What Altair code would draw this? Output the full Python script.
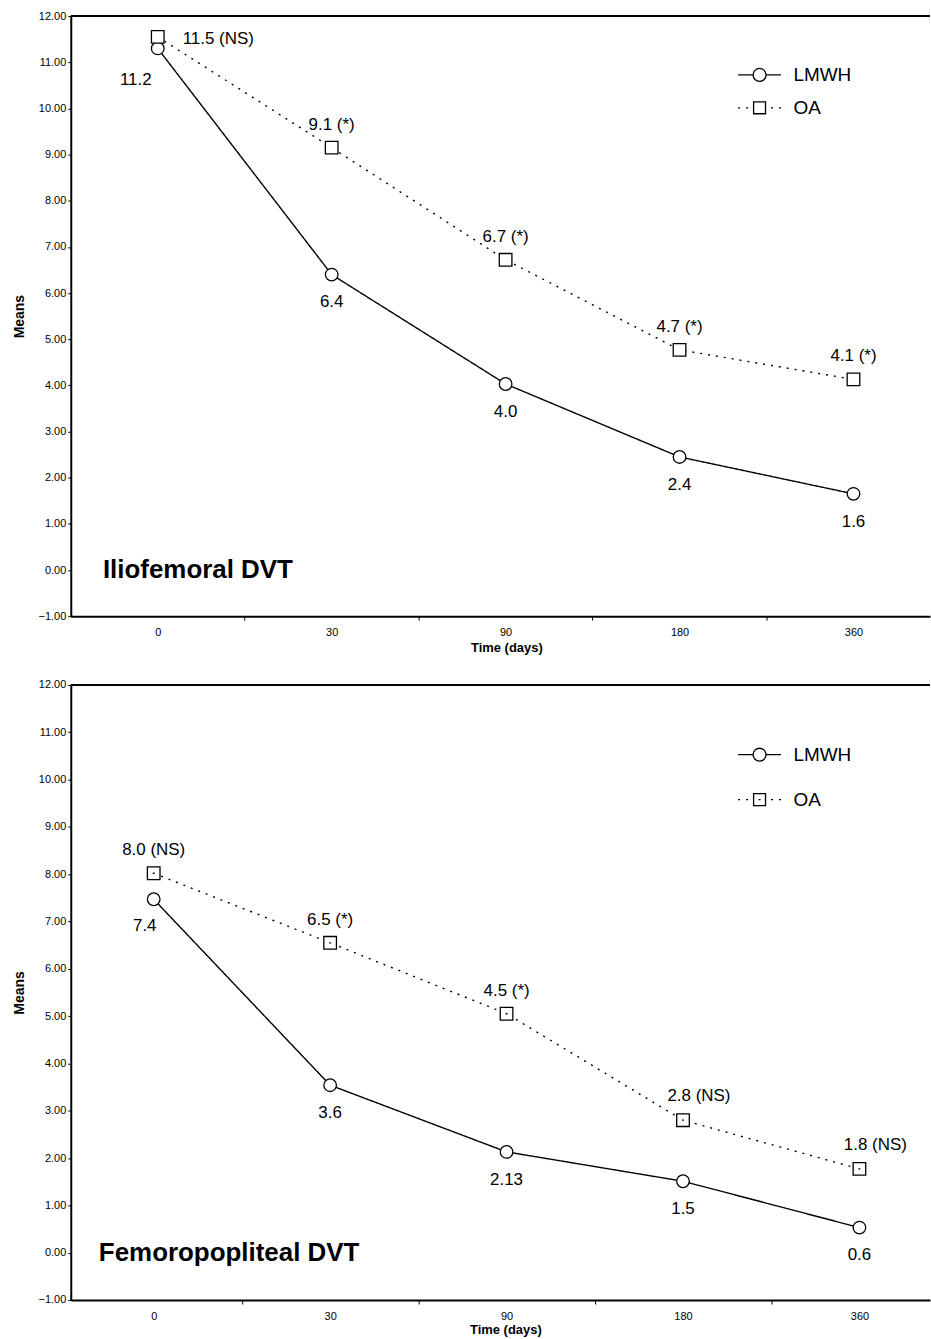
import json
import altair as alt
import pandas as pd

# ---------------- data ----------------
days = ["0", "30", "90", "180", "360"]
series = ["LMWH", "OA"]
y_ticks = list(range(-1, 13))
panel_names = ["Iliofemoral DVT", "Femoropopliteal DVT"]

ilio_lmwh = [11.30, 6.40, 4.03, 2.45, 1.65]
ilio_oa = [11.55, 9.15, 6.72, 4.77, 4.13]
ilio_lmwh_text = ["11.2", "6.4", "4.0", "2.4", "1.6"]
ilio_oa_text = ["11.5 (NS)", "9.1 (*)", "6.7 (*)", "4.7 (*)", "4.1 (*)"]

femo_lmwh = [7.47, 3.54, 2.13, 1.51, 0.53]
femo_oa = [8.02, 6.55, 5.05, 2.80, 1.77]
femo_lmwh_text = ["7.4", "3.6", "2.13", "1.5", "0.6"]
femo_oa_text = ["8.0 (NS)", "6.5 (*)", "4.5 (*)", "2.8 (NS)", "1.8 (NS)"]

FONT = "Liberation Sans"


def make_df(lmwh, oa, lmwh_text, oa_text):
    rows = []
    for i, d in enumerate(days):
        rows.append({"i": i, "day": d, "series": "LMWH", "value": lmwh[i], "label": lmwh_text[i]})
        rows.append({"i": i, "day": d, "series": "OA", "value": oa[i], "label": oa_text[i]})
    return pd.DataFrame(rows)


LMWH_LEG = "M-1.65,0 L-0.5,0 M0.5,0 A0.5,0.5 0 1,1 -0.5,0 A0.5,0.5 0 1,1 0.5,0 M0.5,0 L1.65,0"
OA_LEG = ("M-1.66,0 L-1.5,0 M-1.04,0 L-0.88,0 M-0.46,-0.46 L0.46,-0.46 L0.46,0.46 L-0.46,0.46 Z "
          "M0.88,0 L1.04,0 M1.5,0 L1.66,0")
OA_LEG_DOT = OA_LEG + " M-0.08,0 L0.08,0"
SQUARE_DOT = "M-1,-1 L1,-1 L1,1 L-1,1 Z M-0.15,0 L0.15,0"


def panel(df, name, height, x_min, x_max, legend_y, row_pad, oa_point, oa_leg,
          oa_first_right, oa_right_from, name_dx, lmwh0_dx, lmwh0_dy, lab_pad, title_pad,
          title_x):
    width = 862
    xvals = [k * 0.5 for k in range(0, 9)]
    label_expr = "datum.value % 1 === 0 ? " + json.dumps(days) + "[datum.value] : ''"
    x = alt.X(
        "i:Q",
        scale=alt.Scale(domain=[x_min, x_max], nice=False, zero=False),
        axis=alt.Axis(
            values=xvals, labelExpr=label_expr, title="Time (days)", grid=False,
            tickOpacity={"condition": {"test": "datum.value % 1 === 0", "value": 0}, "value": 1},
            tickSize=4, tickColor="black", domainColor="black", domainWidth=2,
            labelFont=FONT, labelFontSize=11, labelColor="black", labelPadding=lab_pad,
            titleFont=FONT, titleFontSize=13, titleFontWeight="bold", titleColor="black",
            titlePadding=title_pad, titleX=title_x, labelFlush=False, labelOverlap=False,
        ),
    )
    y = alt.Y(
        "value:Q",
        scale=alt.Scale(domain=[-1, 12], nice=False, zero=False),
        axis=alt.Axis(
            values=y_ticks, format=".2f", title="Means", grid=False,
            tickSize=3, tickColor="black", domainColor="black", domainWidth=2,
            labelFont=FONT, labelFontSize=11, labelColor="black", labelPadding=2,
            titleFont=FONT, titleFontSize=14, titleFontWeight="bold", titleColor="black",
            titlePadding=12,
        ),
    )
    base = alt.Chart(df)

    lines = base.mark_line(color="black", strokeWidth=1.4).encode(
        x=x, y=y, detail="series:N",
        strokeDash=alt.StrokeDash("series:N", scale=alt.Scale(domain=series, range=[[1, 0], [2, 6]]),
                                  legend=None),
    )
    points = base.mark_point(filled=True, fill="white", stroke="black", strokeWidth=1.3,
                             size=160, opacity=1).encode(
        x=x, y=y,
        shape=alt.Shape("series:N", scale=alt.Scale(domain=series, range=["circle", oa_point]),
                        legend=None),
    )
    # legend-only layer: no marks drawn, the legend is built from the explicit scale domain
    legend_layer = base.transform_filter("false").mark_point(
        filled=False, color="black", strokeWidth=1.3, opacity=1).encode(
        x=x, y=y,
        shape=alt.Shape(
            "series:N", scale=alt.Scale(domain=series, range=[LMWH_LEG, oa_leg]),
            legend=alt.Legend(
                title=None, orient="none", legendX=677, legendY=legend_y, padding=0,
                symbolSize=676, symbolStrokeWidth=1.3,
                symbolStrokeColor="black", symbolOpacity=1, labelFont=FONT, labelFontSize=19,
                labelColor="black", labelOffset=20, rowPadding=row_pad,
            ),
        ),
    )
    txt = dict(font=FONT, fontSize=17, color="black")
    oa = base.transform_filter(alt.datum.series == "OA")
    lm = base.transform_filter(alt.datum.series == "LMWH")
    oa_center = oa.transform_filter(
        (alt.datum.i > 0) & (alt.datum.i < oa_right_from)).mark_text(dy=-23, **txt).encode(
        x=x, y=y, text="label:N")
    oa_right = oa.transform_filter(alt.datum.i >= oa_right_from).mark_text(
        dy=-24, dx=16, **txt).encode(x=x, y=y, text="label:N")
    if oa_first_right:
        oa_first = oa.transform_filter(alt.datum.i == 0).mark_text(
            align="left", dx=25, dy=2, **txt).encode(x=x, y=y, text="label:N")
    else:
        oa_first = oa.transform_filter(alt.datum.i == 0).mark_text(
            dy=-23, **txt).encode(x=x, y=y, text="label:N")
    lm_rest = lm.transform_filter(alt.datum.i > 0).mark_text(dy=28, **txt).encode(
        x=x, y=y, text="label:N")
    lm_first = lm.transform_filter(alt.datum.i == 0).mark_text(
        dx=lmwh0_dx, dy=lmwh0_dy, **txt).encode(x=x, y=y, text="label:N")

    border = alt.Chart(pd.DataFrame({"top": [12]})).mark_rule(color="black", strokeWidth=2).encode(
        y=alt.Y("top:Q", scale=alt.Scale(domain=[-1, 12], nice=False)))
    name_txt = alt.Chart(pd.DataFrame({"i": [0], "value": [0], "name": [name]})).mark_text(
        align="left", baseline="middle", dx=name_dx, font=FONT, fontSize=26, fontWeight="bold",
        color="black").encode(x=x, y=y, text="name:N")

    return alt.layer(
        border, lines, points, legend_layer, oa_center, oa_right, oa_first, lm_rest, lm_first,
        name_txt,
    ).resolve_scale(shape="independent").properties(width=width, height=height)


top = panel(make_df(ilio_lmwh, ilio_oa, ilio_lmwh_text, ilio_oa_text), panel_names[0],
            height=602, x_min=-0.5, x_max=4.44, legend_y=45, row_pad=9, oa_point="square",
            oa_leg=OA_LEG, oa_first_right=True, oa_right_from=99, name_dx=-55, lmwh0_dx=-22,
            lmwh0_dy=32, lab_pad=6, title_pad=4, title_x=437)
bottom = panel(make_df(femo_lmwh, femo_oa, femo_lmwh_text, femo_oa_text), panel_names[1],
               height=617, x_min=-0.47, x_max=4.40, legend_y=56, row_pad=21, oa_point=SQUARE_DOT,
               oa_leg=OA_LEG_DOT, oa_first_right=False, oa_right_from=3, name_dx=-55,
               lmwh0_dx=-9, lmwh0_dy=27, lab_pad=7, title_pad=2, title_x=436)

chart = alt.vconcat(top, bottom, spacing=25).properties(
    padding={"top": 8, "left": 12, "right": 0, "bottom": 0},
    background="white",
).configure_view(stroke=None)

chart.save("out.html", embed_options={"renderer": "svg", "actions": False})
